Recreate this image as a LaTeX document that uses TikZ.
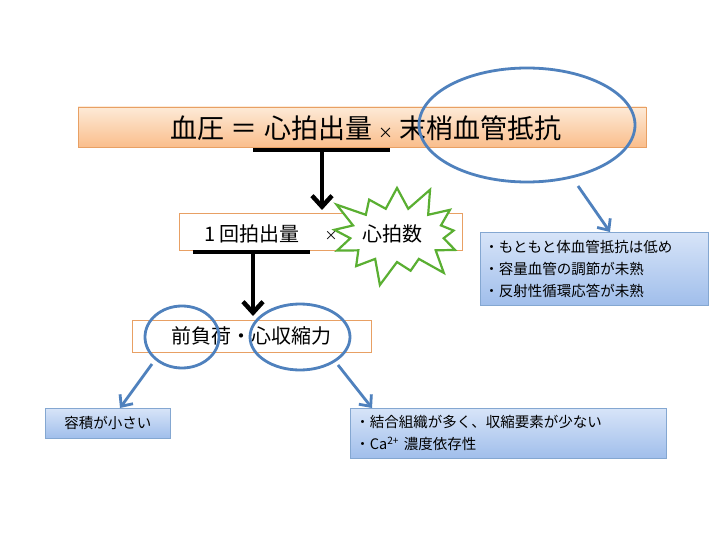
\documentclass[tikz,border=0pt]{standalone}
\usepackage{fontspec}
\setmainfont{Noto Sans CJK JP}
\usetikzlibrary{shapes.symbols,arrows.meta}
\definecolor{orbd}{RGB}{232,160,100}
\definecolor{ortop}{RGB}{253,234,215}
\definecolor{orbot}{RGB}{250,190,140}
\definecolor{bl}{RGB}{79,129,189}
\definecolor{bltop}{RGB}{215,228,248}
\definecolor{blbot}{RGB}{160,190,235}
\definecolor{gr}{RGB}{90,175,50}
\tikzset{
 obox/.style={draw=orbd,line width=0.8pt,minimum height=37pt},
 bbox/.style={draw=bl!70,line width=0.8pt,top color=bltop,bottom color=blbot,align=left,font=\fontsize{14.5}{22}\selectfont,inner sep=4pt},
 ring/.style={draw=bl,line width=2.8pt},
 barrow/.style={draw=bl,line width=2.8pt,-{Straight Barb[length=9pt,width=16pt]}},
 karrow/.style={line width=4.5pt,-{Straight Barb[length=11pt,width=20pt]}},
 uline/.style={line width=4.5pt}
}
\begin{document}
\begin{tikzpicture}[x=1pt,y=-1pt]
\useasboundingbox[fill=white] (0,0) rectangle (720,540);
% top box
\node[obox,top color=ortop,bottom color=orbot,minimum width=568pt,minimum height=40pt] (top) at (362,127) {};
\node[font=\fontsize{27}{30}\selectfont] (eq) at (366,128) {血圧\ ＝\ 心拍出量\ {\fontsize{15}{16}\selectfont ×}\ 末梢血管抵抗};
\coordinate (u1a) at (253,150); \coordinate (u1b) at (390,150);
\draw[uline] (u1a) -- (u1b);
\draw[ring] (527,125) ellipse [x radius=108pt,y radius=57pt];
\coordinate (e1) at (578,186);
% middle
\node[obox,fill=white,minimum width=283pt] (mid) at (321,232) {};
\coordinate (a1s) at (322,150); \coordinate (a1e) at (322,210);
\draw[karrow] (a1s) -- (a1e);
\node[starburst,starburst points=13,starburst point height=28pt,draw=gr,line width=2.2pt,fill=white,minimum width=150pt,minimum height=110pt] (star) at (397,235) {};
\node[font=\fontsize{20}{24}\selectfont] (m1) at (252,234) {1 回拍出量};
\node[font=\fontsize{13}{14}\selectfont] (x2) at (331,236) {×};
\node[font=\fontsize{20}{24}\selectfont] (m2) at (392,234) {心拍数};
\coordinate (u2a) at (193,252); \coordinate (u2b) at (310,252);
\draw[uline] (u2a) -- (u2b);
\coordinate (a2s) at (253,252); \coordinate (a2e) at (253,316);
\draw[karrow] (a2s) -- (a2e);
% right blue box
\node[bbox,minimum width=228pt,minimum height=73pt,anchor=north west,text width=220pt,inner sep=3pt] (rb) at (480,232) {・もともと体血管抵抗は低め\\・容量血管の調節が未熟\\・反射性循環応答が未熟};
\draw[barrow] (e1) -- (rb.north west -| 610,0);
% bottom box
\node[obox,fill=white,minimum width=239pt,minimum height=32pt] (bot) at (252,336) {};
\node[font=\fontsize{20}{24}\selectfont] (bt) at (251,336) {前負荷・心収縮力};
\draw[ring] (182,337) ellipse [x radius=37pt,y radius=31pt];
\draw[ring] (300,337) ellipse [x radius=50pt,y radius=33pt];
\coordinate (c1) at (152,364); \coordinate (c2) at (338,365);
\node[bbox,minimum width=125pt,minimum height=30pt,anchor=north west] (lb) at (45,408) {容積が小さい};
\node[bbox,minimum width=316pt,minimum height=50pt,anchor=north west,text width=306pt,inner sep=3pt] (rb2) at (350,408) {・結合組織が多く、収縮要素が少ない\\・Ca\textsuperscript{2+} 濃度依存性};
\draw[barrow] (c1) -- (lb.north -| 120,0);
\draw[barrow] (c2) -- (rb2.north -| 372,0);
\end{tikzpicture}
\end{document}
